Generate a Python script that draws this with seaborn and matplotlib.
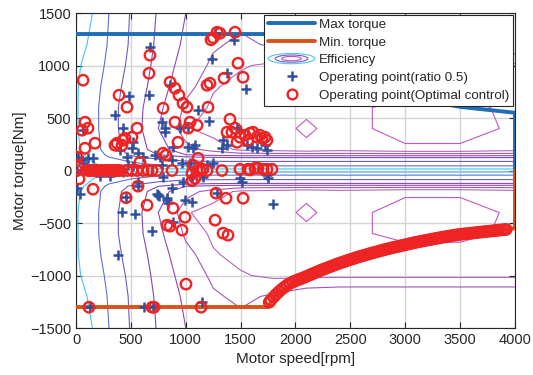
import numpy as np
import pandas as pd
import matplotlib
matplotlib.use("Agg")
import matplotlib.pyplot as plt
from matplotlib.patches import Ellipse, Patch
from matplotlib.legend_handler import HandlerBase
from matplotlib.lines import Line2D
import seaborn as sns

# ---------------- efficiency map (positive-torque half, mirrored for braking) ----
eff_speed = [0, 150, 300, 500, 750, 1000, 1250, 1500, 1800, 2100, 2400, 3000, 3500, 4000]
eff_torque_pos = [0, 50, 150, 200, 400, 600, 800, 1000, 1200, 1500]
eff_table_pos = [
    [0.40, 0.45, 0.50, 0.52, 0.55, 0.55, 0.55, 0.55, 0.55, 0.55, 0.55, 0.55, 0.55, 0.55],
    [0.50, 0.58, 0.63, 0.66, 0.70, 0.72, 0.72, 0.72, 0.72, 0.72, 0.72, 0.72, 0.72, 0.72],
    [0.56, 0.64, 0.72, 0.79, 0.84, 0.87, 0.88, 0.885, 0.885, 0.885, 0.885, 0.885, 0.885, 0.885],
    [0.58, 0.66, 0.74, 0.81, 0.86, 0.885, 0.895, 0.902, 0.904, 0.907, 0.904, 0.908, 0.908, 0.904],
    [0.59, 0.67, 0.75, 0.82, 0.87, 0.899, 0.904, 0.905, 0.905, 0.9123, 0.905, 0.915, 0.915, 0.908],
    [0.59, 0.67, 0.75, 0.82, 0.865, 0.893, 0.902, 0.905, 0.905, 0.907, 0.905, 0.915, 0.915, 0.906],
    [0.59, 0.66, 0.74, 0.81, 0.86, 0.885, 0.899, 0.903, 0.904, 0.904, 0.904, 0.903, 0.903, 0.903],
    [0.58, 0.65, 0.72, 0.80, 0.855, 0.88, 0.893, 0.899, 0.902, 0.902, 0.902, 0.902, 0.902, 0.902],
    [0.56, 0.62, 0.71, 0.79, 0.85, 0.875, 0.888, 0.893, 0.888, 0.882, 0.88, 0.88, 0.88, 0.88],
    [0.52, 0.60, 0.70, 0.785, 0.845, 0.87, 0.882, 0.885, 0.88, 0.874, 0.872, 0.872, 0.872, 0.872],
]
eff_levels = [0.60, 0.70, 0.78, 0.84, 0.87, 0.89, 0.90, 0.91]
eff_colors = ["#44c4ee", "#5f70d2", "#7058c0", "#8048b4", "#9048b2", "#a454b8", "#b464c0", "#c058c2"]

# ---------------- torque envelope ----------------
max_speed = [0, 1750, 2000, 2500, 3000, 3500, 4000, 4000]
max_torque = [1300, 1300, 1060, 848, 707, 606, 550, 0]
min_speed = [0, 1750, 1800, 1900, 2000, 2250, 2500, 3000, 3500, 3900, 4000, 4000]
min_torque = [-1300, -1300, -1210, -1120, -1060, -942, -848, -707, -608, -563, -550, 0]

# ---------------- operating points: ratio 0.5 ----------------
ratio_pos_speed = [674, 1440, 1270, 1239, 1376, 1549, 860, 483, 665, 1112, 1212, 355, 428, 784,
                   811, 64, 519, 510, 565, 611, 401, 465, 109, 155, 720, 784, 811, 1021, 1084,
                   1340, 1376, 1330, 1467, 1494, 1558, 1604, 1649, 1722, 1740, 884, 1021, 1066,
                   1039, 1194, 1248, 948, 765, 875, 966, 18, 55, 64, 474, 519]
ratio_pos_torque = [1174, 1240, 1310, 1060, 926, 774, 810, 707, 717, 574, 469, 527, 403, 460,
                    403, 384, 269, 212, 165, 127, 193, 127, 117, 117, 146, 50, 365, 412, 241,
                    288, 241, 212, 403, 384, 241, 222, 212, 241, 193, 222, 222, 212,
                    69, 50, 69, 403, 127, 98, 69, 127, 98, 69, 50, 41]
ratio_neg_speed = [9, 219, 310, 428, 565, 793, 975, 1057, 1157, 1494, 1740, 1750, 9, 36, 456,
                   565, 419, 538, 693, 383, 747, 756, 738, 829, 838, 875, 829, 993, 1057, 884,
                   1285, 1795, 1513, 128, 620, 702, 1148]
ratio_neg_torque = [0, -54, -54, -16, -111, -64, -111, -64, -64, -73, -45, -73, -168, -226, -254,
                    -149, -397, -416, -578, -806, -235, -240, -228, -283, -311, -168, -264, -283,
                    -302, -492, -216, -321, -111, -1302, -1302, -1302, -1254]

# ---------------- operating points: optimal control ----------------
opt_pos_speed = [1285, 1312, 1449, 1230, 1250, 674, 665, 64, 1476, 1522,
                 857, 902, 938, 975, 1011, 1194, 1221, 1349, 1203, 392,
                 465, 793, 82, 55, 109, 556, 510, 446, 428, 355,
                 374, 419, 82, 173, 9, 902, 1039, 1021, 1103, 1403,
                 1376, 1421, 1467, 1449, 1540, 1585, 1613, 1649, 1677, 1695,
                 1740, 1567, 1722, 929, 793, 820, 1112, 583, 18, 1494, 1066, 1157]
opt_pos_torque = [1317, 1307, 1317, 1245, 1265, 1098, 926, 860, 1022, 888,
                  841, 783, 717, 640, 603, 812, 831, 879, 603, 717,
                  603, 593, 460, 384, 403, 403, 317, 307, 288, 241,
                  260, 241, 212, 260, 127, 460, 460, 403, 431, 488,
                  365, 365, 269, 403, 336, 355, 365, 317, 336, 307,
                  288, 288, 317, 269, 165, 146, 117, 79, 50, 317, 50, 12]
coast_speed = [9, 109, 128, 146, 164, 182, 200, 219, 237, 255, 273, 292, 310, 328, 346, 365,
               383, 401, 465, 510, 556, 611, 656, 693, 738, 875, 1103, 1130, 1194, 1330,
               1494, 1567, 1585, 1631, 1658, 1704, 1740, 1786]
coast_torque = [0, 0, 0, 0, 0, 0, 0, 0, 0, 0, 0, 0, 0, 0, 0, 0,
                0, 0, 0, 0, 0, 0, 0, 0, 0, 0, 0, 0, 0, 0,
                12, 12, 5, 22, 22, 12, 12, 12]
opt_neg_speed = [27, 155, 456, 565, 647, 829, 857, 966, 993, 884, 1276, 1367, 1522, 1267,
                 1340, 1385, 1057, 1057, 1084, 1002, 118, 693, 711, 1139]
opt_neg_torque = [-80, -178, -259, -149, -330, -521, -530, -568, -445, -359, -216, -264, -264,
                  -473, -597, -616, -26, -97, -73, -1082, -1302, -1302, -1302, -1302]
regen_speed = [1760, 1775, 1800, 1825, 1850, 1875, 1900, 1925, 1950, 1975,
               2000, 2025, 2050, 2075, 2100, 2125, 2150, 2175, 2200, 2225,
               2250, 2275, 2300, 2325, 2350, 2375, 2400, 2425, 2450, 2475,
               2500, 2525, 2550, 2575, 2600, 2625, 2650, 2675, 2700, 2725,
               2750, 2775, 2800, 2825, 2850, 2875, 2900, 2925, 2950, 2975,
               3000, 3025, 3050, 3075, 3100, 3125, 3150, 3175, 3200, 3225,
               3250, 3275, 3300, 3325, 3350, 3375, 3400, 3425, 3450, 3475,
               3500, 3525, 3550, 3575, 3600, 3625, 3650, 3675, 3700, 3725,
               3750, 3775, 3800, 3825, 3850, 3875, 3900, 3920]
regen_torque = [-1255, -1235, -1205, -1178, -1153, -1130, -1110, -1090, -1075, -1062,
                -1050, -1040, -1030, -1020, -1008, -997, -986, -975, -964, -953,
                -942, -932, -922, -912, -902, -892, -883, -874, -865, -856,
                -848, -840, -831, -823, -815, -808, -800, -792, -785, -778,
                -771, -764, -757, -750, -744, -737, -731, -725, -719, -713,
                -707, -701, -695, -689, -684, -678, -673, -668, -663, -658,
                -653, -648, -643, -638, -634, -629, -625, -620, -616, -612,
                -608, -605, -602, -600, -597, -594, -591, -588, -585, -582,
                -579, -577, -574, -571, -568, -566, -563, -561]

# ---------------- style ----------------
sns.set_style("ticks")
plt.rcParams["font.family"] = ["Liberation Sans", "DejaVu Sans"]

BLUE_LINE = "#1f6db5"
ORANGE_LINE = "#d95319"
PLUS_BLUE = "#2f4f9f"
RING_RED = "#ee2424"
INK = "#262626"

fig = plt.figure(figsize=(5.33, 3.75), dpi=100)
ax = fig.add_axes([0.1426, 0.1253, 0.8236, 0.8400])

# efficiency contours (table mirrored about zero torque)
tq_pos = np.array(eff_torque_pos, dtype=float)
tbl_pos = np.array(eff_table_pos)
torque_full = np.concatenate([-tq_pos[:0:-1], tq_pos])
eff_full = np.vstack([tbl_pos[:0:-1], tbl_pos])
ax.contour(eff_speed, torque_full, eff_full, levels=eff_levels, colors=eff_colors,
           linewidths=0.8, zorder=1)

# torque envelope
sns.lineplot(x=max_speed, y=max_torque, sort=False, estimator=None, color=BLUE_LINE,
             linewidth=2.8, ax=ax, zorder=3)
sns.lineplot(x=min_speed, y=min_torque, sort=False, estimator=None, color=ORANGE_LINE,
             linewidth=2.8, ax=ax, zorder=3)

# operating points
ratio_speed = ratio_pos_speed + ratio_neg_speed
ratio_torque = ratio_pos_torque + ratio_neg_torque
sns.scatterplot(x=ratio_speed, y=ratio_torque, marker="+", s=44, color=PLUS_BLUE,
                linewidth=1.8, ax=ax, zorder=4)

opt_speed = opt_pos_speed + coast_speed + opt_neg_speed + regen_speed
opt_torque = opt_pos_torque + coast_torque + opt_neg_torque + regen_torque
sns.scatterplot(x=opt_speed, y=opt_torque, marker="o", s=56, facecolor="none",
                edgecolor=RING_RED, linewidth=1.7, ax=ax, zorder=5)

# axes
ax.set_xlim(0, 4000)
ax.set_ylim(-1500, 1500)
ax.set_xticks(np.arange(0, 4001, 500))
ax.set_yticks(np.arange(-1500, 1501, 500))
ax.grid(True, color="#d4d4d4", linewidth=1.0, zorder=0)
ax.set_axisbelow(True)
ax.tick_params(direction="in", top=True, right=True, length=4, width=0.8,
               labelsize=10.5, colors=INK)
for sp in ax.spines.values():
    sp.set_visible(True)
    sp.set_color(INK)
    sp.set_linewidth(0.8)
ax.set_xlabel("Motor speed[rpm]", fontsize=11, color=INK, labelpad=4)
ax.set_ylabel("Motor torque[Nm]", fontsize=11, color=INK, labelpad=2)


class EllipseHandler(HandlerBase):
    def create_artists(self, legend, orig_handle, xdescent, ydescent, width, height,
                       fontsize, trans):
        cx = -xdescent + width / 2
        cy = -ydescent + height / 2
        arts = []
        for frac, col in zip([1.0, 0.7, 0.42], ["#4cc6ee", "#7a5cc0", "#c050c0"]):
            arts.append(Ellipse((cx, cy), width * frac, height * 1.1 * frac, fill=False,
                                edgecolor=col, linewidth=0.8, transform=trans))
        return arts


eff_proxy = Patch(facecolor="none", edgecolor="none")
handles = [
    Line2D([], [], color=BLUE_LINE, linewidth=2.8),
    Line2D([], [], color=ORANGE_LINE, linewidth=2.8),
    eff_proxy,
    Line2D([], [], color=PLUS_BLUE, marker="+", linestyle="none", markersize=7,
           markeredgewidth=1.8),
    Line2D([], [], color=RING_RED, marker="o", linestyle="none", markersize=7,
           markerfacecolor="none", markeredgewidth=1.7),
]
labels = ["Max torque", "Min. torque", "Efficiency", "Operating point(ratio 0.5)",
          "Operating point(Optimal control)"]
leg = ax.legend(handles, labels, handler_map={eff_proxy: EllipseHandler()},
                loc="upper right", bbox_to_anchor=(0.996, 0.995), borderaxespad=0,
                fontsize=9.6, handlelength=3.5, handletextpad=0.3, labelspacing=0.4,
                borderpad=0.3, fancybox=False, framealpha=1, edgecolor=INK)
leg.get_frame().set_linewidth(0.8)
leg.set_zorder(10)

fig.savefig("out.png", dpi=100)
